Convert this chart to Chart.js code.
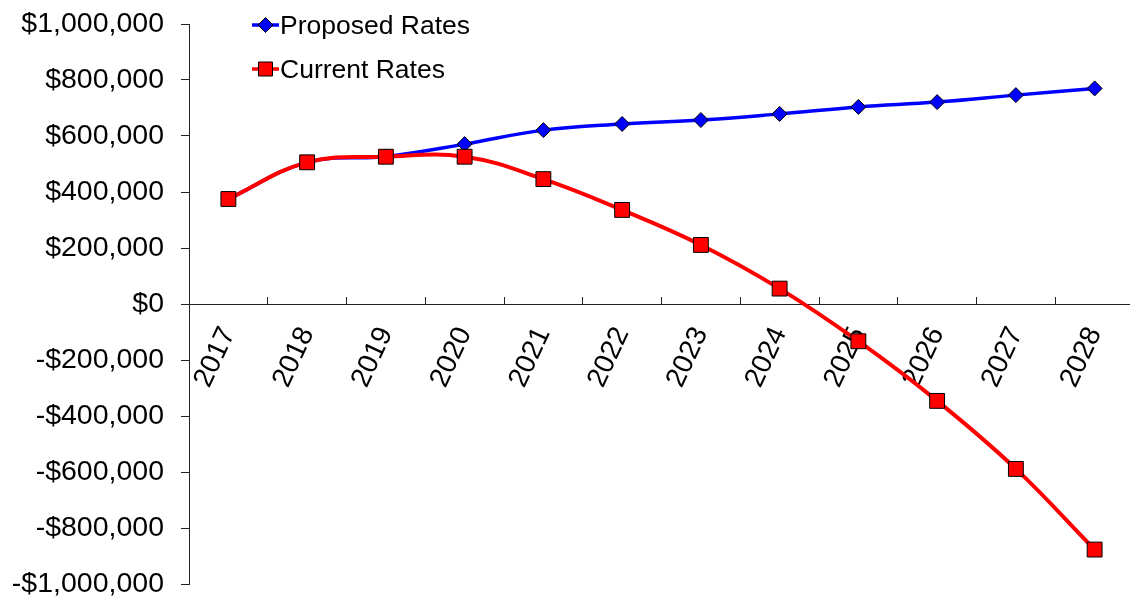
<!DOCTYPE html>
<html><head><meta charset="utf-8">
<script src="https://cdn.jsdelivr.net/npm/chart.js@4.4.0/dist/chart.umd.min.js"></script>
<style>html,body{margin:0;padding:0;background:#fff;overflow:hidden;} #wrap{width:1134px;height:601px;}</style>
</head><body><div id="wrap"><canvas id="c" width="1134" height="601"></canvas></div>
<script>
const categories = ['2017','2018','2019','2020','2021','2022','2023','2024','2025','2026','2027','2028'];
const proposedRates = [375000, 506000, 527000, 571000, 621000, 643000, 657000, 679000, 704000, 721000, 746000, 770000];
const currentRates = [375000, 506000, 526000, 526000, 446000, 336000, 211000, 55000, -133000, -346000, -589000, -877000];
const seriesLabels = ['Proposed Rates', 'Current Rates'];
const yMin = -1000000, yMax = 1000000, yStep = 200000;

const FONT = 'Arial, "Liberation Sans", sans-serif';
const AXIS = '#222';

function money(v) {
  const s = Math.abs(v).toLocaleString('en-US');
  return (v < 0 ? '-$' : '$') + s;
}

const legendPlugin = {
  id: 'customLegend',
  afterDraw(chart) {
    const ctx = chart.ctx;
    const items = [
      {ds: chart.data.datasets[1], y: 25, base: 34},
      {ds: chart.data.datasets[0], y: 69, base: 78}
    ];
    ctx.save();
    items.forEach(it => {
      const ds = it.ds;
      const cx = 265.5;
      ctx.strokeStyle = ds.borderColor;
      ctx.lineWidth = 3.5;
      ctx.beginPath(); ctx.moveTo(252, it.y); ctx.lineTo(279, it.y); ctx.stroke();
      ctx.fillStyle = ds.pointBackgroundColor;
      ctx.strokeStyle = '#000';
      ctx.lineWidth = 1;
      ctx.beginPath();
      if (ds.pointStyle === 'rectRot') {
        const r = ds.pointRadius;
        ctx.moveTo(cx - r, it.y); ctx.lineTo(cx, it.y - r); ctx.lineTo(cx + r, it.y); ctx.lineTo(cx, it.y + r); ctx.closePath();
      } else {
        const h = 7;
        ctx.rect(cx - h, it.y - h, 2 * h, 2 * h);
      }
      ctx.fill(); ctx.stroke();
      ctx.fillStyle = '#000';
      ctx.font = '26.5px ' + FONT;
      ctx.textAlign = 'left';
      ctx.textBaseline = 'alphabetic';
      ctx.fillText(ds.label, 280, it.base);
    });
    ctx.restore();
  }
};

new Chart(document.getElementById('c'), {
  type: 'line',
  data: {
    labels: categories,
    datasets: [
      {
        label: seriesLabels[1], data: currentRates, order: 1,
        borderColor: '#FF0000', backgroundColor: '#FF0000', borderWidth: 4,
        pointStyle: 'rect', pointRadius: 10.5, pointHoverRadius: 10.5,
        pointBackgroundColor: '#FF0000', pointBorderColor: '#000', pointBorderWidth: 1,
        tension: 0.4, fill: false, clip: false
      },
      {
        label: seriesLabels[0], data: proposedRates, order: 2,
        borderColor: '#0000FF', backgroundColor: '#0000FF', borderWidth: 3.5,
        pointStyle: 'rectRot', pointRadius: 7.5, pointHoverRadius: 7.5,
        pointBackgroundColor: '#0000FF', pointBorderColor: '#000', pointBorderWidth: 1,
        tension: 0.4, fill: false, clip: false
      }
    ]
  },
  options: {
    responsive: false,
    animation: false,
    events: [],
    layout: {autoPadding: false, padding: {left: 0, right: 0, top: 24, bottom: 17}},
    plugins: {legend: {display: false}, tooltip: {enabled: false}},
    scales: {
      x: {
        position: {y: 0},
        offset: true,
        grid: {offset: true, drawOnChartArea: false, drawTicks: true, tickLength: -8, color: AXIS},
        border: {color: AXIS, width: 1},
        ticks: {
          autoSkip: false, maxRotation: 65, minRotation: 65, padding: 26,
          color: '#000', font: {size: 28, family: FONT}
        },
        afterFit(scale) { scale.height = 0; scale.paddingLeft = 0; scale.paddingRight = 0; }
      },
      y: {
        min: yMin, max: yMax,
        grid: {drawOnChartArea: false, drawTicks: true, tickLength: 8, color: AXIS},
        border: {color: AXIS, width: 1},
        ticks: {
          stepSize: yStep, padding: 17, color: '#000',
          font: {size: 28.5, family: FONT},
          callback: v => money(v)
        },
        afterFit(scale) { scale.width = 189; scale.paddingTop = 0; scale.paddingBottom = 0; }
      }
    }
  },
  plugins: [legendPlugin]
});
</script>
</body></html>
